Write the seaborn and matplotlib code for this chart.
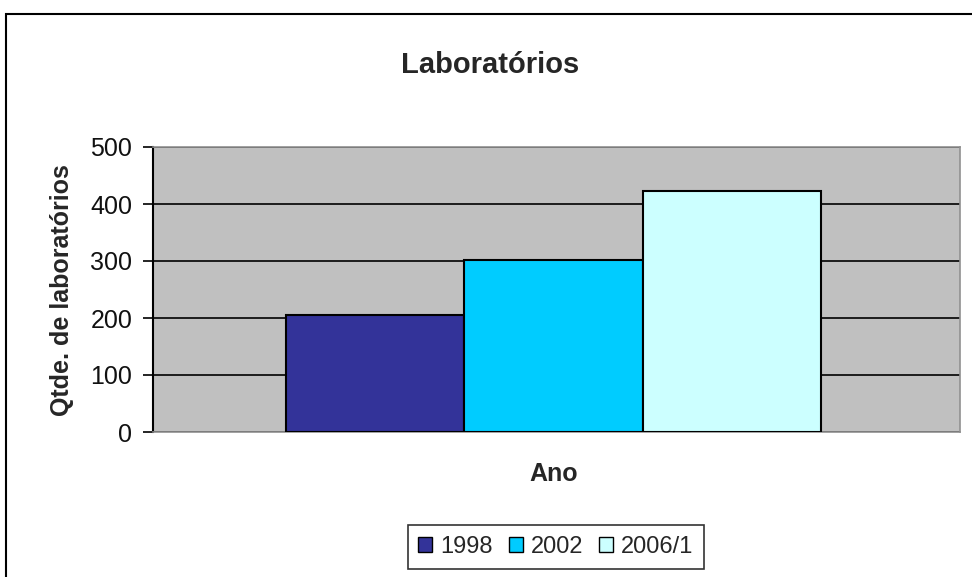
import matplotlib
matplotlib.use("Agg")
import matplotlib.pyplot as plt
import seaborn as sns
import pandas as pd
from matplotlib.patches import Rectangle

# Data
anos = ["1998", "2002", "2006/1"]
qtde = [206, 302, 422]
cores = ["#333399", "#00CCFF", "#CCFFFF"]

df = pd.DataFrame({"grupo": [""] * len(anos), "ano": anos, "qtde": qtde})

sns.set_style("white")
plt.rcParams["font.family"] = ["Liberation Sans", "DejaVu Sans"]

fig = plt.figure(figsize=(9.72, 5.77), dpi=100)
ax = fig.add_axes([153 / 972, 1 - 432 / 577, (960 - 153) / 972, (432 - 147) / 577])

sns.barplot(data=df, x="grupo", y="qtde", hue="ano", palette=cores,
            width=0.663, edgecolor="black", linewidth=1.5, saturation=1,
            legend=False, ax=ax, zorder=3)

ax.set_facecolor("#C0C0C0")
ax.set_ylim(0, 500)
ax.set_xlim(-0.4963, 0.5037)
ax.set_yticks(range(0, 501, 100))
ax.yaxis.grid(True, color="black", linewidth=1.2, zorder=0)
ax.set_axisbelow(True)
ax.set_xticks([])
ax.tick_params(axis="y", which="major", length=7, width=1.2, color="black",
               labelsize=18, left=True, pad=8, labelcolor="#111111")
for s in ["top", "right", "bottom"]:
    ax.spines[s].set_color("#909090")
    ax.spines[s].set_linewidth(1.2)
ax.spines["left"].set_color("black")
ax.spines["left"].set_linewidth(1.5)
ax.set_xlabel("")
ax.set_ylabel("")

fig.text(490 / 972, 1 - 73 / 577, "Laboratórios", ha="center", va="baseline",
         fontsize=21, fontweight="bold")
fig.text(62 / 972, 1 - 290 / 577, "Qtde. de laboratórios", ha="center", va="center",
         rotation=90, fontsize=18, fontweight="bold")
fig.text(554 / 972, 1 - 474 / 577, "Ano", ha="center", va="center",
         fontsize=18, fontweight="bold")

# legend
handles = [Rectangle((0, 0), 1, 1, facecolor=c, edgecolor="black", linewidth=1) for c in cores]
leg = fig.legend(handles, anos, loc="center", bbox_to_anchor=(556 / 972, 1 - 547 / 577),
                 ncol=3, frameon=True, fancybox=False, fontsize=17,
                 handlelength=0.6, handleheight=0.6, handletextpad=0.35,
                 columnspacing=0.65, borderpad=0.45, borderaxespad=0)
leg.get_frame().set_edgecolor("black")
leg.get_frame().set_linewidth(1.2)

# outer chart border (top and left visible)
fig.add_artist(Rectangle((6 / 972, -0.2), 1.2, 1.2 - 14 / 577,
                         transform=fig.transFigure, fill=False,
                         edgecolor="black", linewidth=1.5, clip_on=False))

fig.savefig("out.png", dpi=100)
